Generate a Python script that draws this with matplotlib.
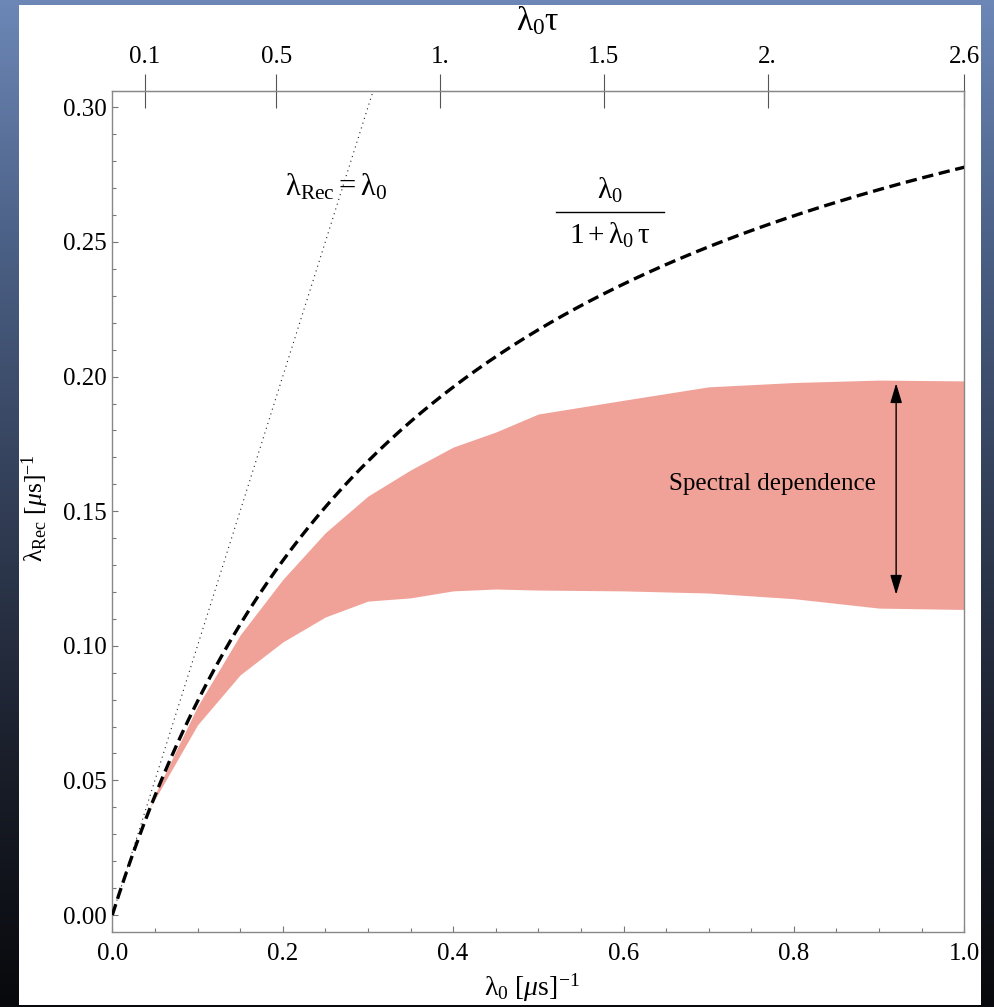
import numpy as np
import matplotlib
matplotlib.use("Agg")
import matplotlib.pyplot as plt
from matplotlib.patches import Rectangle
from matplotlib.lines import Line2D
from matplotlib.ticker import MultipleLocator

plt.rcParams['font.family'] = 'Liberation Serif'
plt.rcParams['mathtext.fontset'] = 'custom'
plt.rcParams['mathtext.rm'] = 'Liberation Serif'
plt.rcParams['mathtext.it'] = 'Liberation Serif:italic'
plt.rcParams['mathtext.bf'] = 'Liberation Serif:bold'

# dead time (us)
tau = 2.6

# spectral band: lower / upper bounds of the reconstructed rate
band_x = [0.044, 0.05, 0.10, 0.15, 0.20, 0.25, 0.30, 0.35, 0.40, 0.45, 0.50,
          0.60, 0.70, 0.80, 0.90, 1.00]
band_lo = [0.0398, 0.043, 0.0706, 0.0892, 0.1014, 0.1107, 0.1166, 0.1178,
           0.1204, 0.1211, 0.1207, 0.1204, 0.1196, 0.1175, 0.1140, 0.1135]
band_hi = [0.0398, 0.0448, 0.0775, 0.1040, 0.1246, 0.1420, 0.1556, 0.1653,
           0.1738, 0.1794, 0.1861, 0.1912, 0.1962, 0.1978, 0.1987, 0.1984]

top_ticks = [0.1, 0.5, 1.0, 1.5, 2.0, 2.6]
top_labels = ['0.1', '0.5', '1.', '1.5', '2.', '2.6']

lam0 = np.linspace(0, 1, 400)
lam_rec = lam0 / (1 + lam0 * tau)

fig = plt.figure(figsize=(9.95, 10.07), dpi=100)

# slide background + white panel
bg = fig.add_axes([0, 0, 1, 1], zorder=-10)
stops = np.array([[108, 135, 182], [74, 95, 132], [50, 62, 86],
                  [26, 31, 43], [8, 9, 12]]) / 255.0
pos = np.linspace(0, 1, len(stops))
t = np.linspace(0, 1, 256)
grad = np.stack([np.interp(t, pos, stops[:, k]) for k in range(3)], axis=1)
bg.imshow(grad[:, None, :], aspect='auto', extent=[0, 1, 0, 1], origin='upper')
bg.add_patch(Rectangle((19 / 995, 2 / 1007), (981 - 19) / 995, (1002 - 2) / 1007,
                       facecolor='white', edgecolor='none'))
bg.set_xlim(0, 1)
bg.set_ylim(0, 1)
bg.axis('off')

ax = fig.add_axes([112.3 / 995, 75.3 / 1007, 852 / 995, 841 / 1007])
ax.set_facecolor('none')

ax.fill_between(band_x, band_lo, band_hi, color='#f0a298', lw=0, zorder=1)
ax.plot(lam0, lam0, color='#222222', lw=0.8, linestyle=(0, (1, 3.5)), zorder=2)
ax.plot(lam0, lam_rec, color='black', lw=2.4, linestyle=(0, (3.4, 1.7)), zorder=3)

ax.annotate('', xy=(0.92, 0.1975), xytext=(0.92, 0.1190),
            arrowprops=dict(arrowstyle='<|-|>,head_length=0.6,head_width=0.18',
                            color='black', lw=1, mutation_scale=20,
                            shrinkA=0, shrinkB=0))
ax.text(0.775, 0.160, 'Spectral dependence', fontsize=18, ha='center', va='center')
ax.text(0.263, 0.2705, r'$\mathrm{\lambda_{Rec}} = \mathrm{\lambda_0}$', fontsize=22,
        ha='center', va='center')

# fraction label next to the dashed curve
ax.text(0.584, 0.882, r'$\mathrm{\lambda_0}$', fontsize=21, ha='center',
        va='center', transform=ax.transAxes)
ax.text(0.584, 0.828, r'$1 + \mathrm{\lambda_0}\,\mathrm{\tau}$', fontsize=21,
        ha='center', va='center', transform=ax.transAxes)
ax.add_line(Line2D([0.521, 0.648], [0.8558, 0.8558], color='black', lw=1,
                   transform=ax.transAxes))

ax.set_xlim(0, 1)
ax.set_ylim(-0.0062, 0.3062)
ax.xaxis.set_major_locator(MultipleLocator(0.2))
ax.xaxis.set_minor_locator(MultipleLocator(0.05))
ax.yaxis.set_major_locator(MultipleLocator(0.05))
ax.yaxis.set_minor_locator(MultipleLocator(0.01))
ax.xaxis.set_major_formatter(plt.FuncFormatter(lambda v, p: f'{v:.1f}'))
ax.yaxis.set_major_formatter(plt.FuncFormatter(lambda v, p: f'{v:.2f}'))
ax.tick_params(which='both', direction='in', top=False, right=False,
               color='#777777', width=0.8, labelsize=18)
ax.tick_params(which='major', length=4.5)
ax.tick_params(which='minor', length=2.8)
ax.tick_params(axis='y', pad=4)
ax.tick_params(axis='x', pad=8)
for s in ax.spines.values():
    s.set_color('#888888')
    s.set_linewidth(1)

sec = ax.secondary_xaxis('top', functions=(lambda x: x * tau, lambda v: v / tau))
sec.set_xticks(top_ticks, top_labels)
sec.tick_params(direction='inout', length=24, width=0.8, color='#555555',
                pad=4.5, labelsize=18)
sec.spines['top'].set_color('#888888')

fig.text(538 / 995, 1 - 21 / 1007, r'$\mathrm{\lambda_0\tau}$', fontsize=24,
         ha='center', va='center')
fig.text(532 / 995, 1 - 988 / 1007, r'$\mathrm{\lambda_0}\ [\mu\mathrm{s}]^{-1}$',
         fontsize=20, ha='center', va='center')
fig.text(35 / 995, 1 - 508 / 1007, r'$\mathrm{\lambda_{Rec}}\ [\mu\mathrm{s}]^{-1}$',
         fontsize=18.5, ha='center', va='center', rotation=90)

fig.savefig('out.png', dpi=100)
